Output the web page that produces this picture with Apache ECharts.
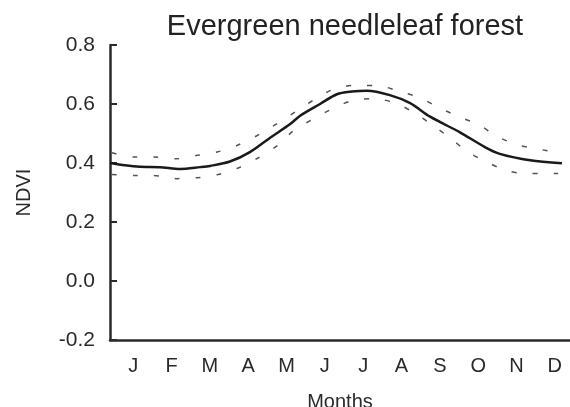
<!DOCTYPE html>
<html>
<head>
<meta charset="utf-8">
<script src="https://cdn.jsdelivr.net/npm/echarts@6/dist/echarts.min.js"></script>
<style>
  html, body { margin: 0; padding: 0; background: #fff; }
  #chart { width: 570px; height: 407px; }
</style>
</head>
<body>
<div id="chart"></div>
<script>
var months = ['J', 'F', 'M', 'A', 'M', 'J', 'J', 'A', 'S', 'O', 'N', 'D'];

// position along the year in months (0 = start of Jan), NDVI value
var meanX = [0.00, 0.39, 0.78, 1.30, 1.83, 2.35, 2.61, 3.13, 3.65, 4.17, 4.70, 4.96, 5.48, 5.92, 6.31, 6.70, 7.30, 7.83, 8.35, 9.13, 9.78, 10.17, 10.96, 11.79];
var meanY = [0.400, 0.392, 0.387, 0.386, 0.380, 0.386, 0.390, 0.405, 0.437, 0.485, 0.532, 0.560, 0.600, 0.633, 0.642, 0.645, 0.630, 0.603, 0.557, 0.504, 0.454, 0.431, 0.409, 0.399];

var upperX = [0.05, 0.60, 1.12, 1.70, 2.27, 2.79, 3.34, 3.91, 4.36, 4.88, 5.32, 5.87, 6.42, 6.97, 7.51, 8.06, 8.58, 9.08, 9.63, 10.10, 10.62, 11.14, 11.69];
var upperY = [0.435, 0.420, 0.420, 0.414, 0.426, 0.437, 0.461, 0.498, 0.534, 0.577, 0.614, 0.652, 0.663, 0.663, 0.644, 0.622, 0.588, 0.558, 0.529, 0.490, 0.462, 0.448, 0.435];

var lowerX = [0.05, 0.60, 1.12, 1.75, 2.27, 2.82, 3.34, 3.86, 4.38, 4.77, 5.27, 5.79, 6.31, 6.89, 7.44, 7.93, 8.43, 8.90, 9.34, 9.84, 10.33, 10.91, 11.43, 11.69];
var lowerY = [0.361, 0.358, 0.358, 0.347, 0.350, 0.361, 0.383, 0.417, 0.460, 0.508, 0.547, 0.583, 0.611, 0.618, 0.603, 0.571, 0.527, 0.482, 0.437, 0.403, 0.375, 0.364, 0.364, 0.364];

function pairs(xs, ys) {
    var out = [];
    for (var i = 0; i < xs.length; i++) out.push([xs[i], ys[i]]);
    return out;
}

var myChart = echarts.init(document.getElementById('chart'));
var axisColor = '#2a2a2a';
var font = 'Liberation Sans, Arial, sans-serif';

var option = {
    animation: false,
    title: {
        text: 'Evergreen needleleaf forest',
        left: 340,
        top: 7,
        textAlign: 'center',
        textStyle: { fontFamily: font, fontSize: 29, fontWeight: 'normal', color: '#222' }
    },
    grid: { left: 110, right: 0, top: 45, bottom: 67, containLabel: false, outerBoundsMode: 'none' },
    xAxis: [{
        type: 'category',
        data: months,
        boundaryGap: true,
        name: 'Months',
        nameLocation: 'middle',
        nameGap: 52,
        nameTextStyle: { fontFamily: font, fontSize: 20, color: axisColor },
        axisLine: { onZero: false, lineStyle: { color: axisColor, width: 2.5 } },
        axisTick: { inside: true, length: 5, lineStyle: { color: axisColor, width: 1.5 } },
        axisLabel: { fontFamily: font, fontSize: 20, color: axisColor, margin: 16, padding: [0, 0, 0, 8] },
        splitLine: { show: false }
    }, {
        type: 'value',
        min: 0,
        max: 12,
        show: false
    }],
    yAxis: {
        type: 'value',
        min: -0.2,
        max: 0.8,
        interval: 0.2,
        name: 'NDVI',
        nameLocation: 'middle',
        nameGap: 76,
        nameTextStyle: { fontFamily: font, fontSize: 20, color: axisColor },
        axisLine: { show: true, onZero: false, lineStyle: { color: axisColor, width: 2.5 } },
        axisTick: { show: true, inside: true, length: 7, lineStyle: { color: axisColor, width: 2 } },
        axisLabel: {
            fontFamily: font, fontSize: 21, color: axisColor, margin: 15,
            formatter: function (v) { return v.toFixed(1); }
        },
        splitLine: { show: false }
    },
    series: [{
        type: 'line',
        xAxisIndex: 1,
        data: pairs(meanX, meanY),
        smooth: 0.3,
        symbol: 'none',
        lineStyle: { color: '#1a1a1a', width: 2.5 }
    }, {
        type: 'line',
        xAxisIndex: 1,
        data: pairs(upperX, upperY),
        smooth: 0.3,
        symbol: 'none',
        lineStyle: { color: '#555', width: 1.5, type: [5, 16] }
    }, {
        type: 'line',
        xAxisIndex: 1,
        data: pairs(lowerX, lowerY),
        smooth: 0.3,
        symbol: 'none',
        lineStyle: { color: '#555', width: 1.5, type: [5, 16] }
    }]
};

if (option && typeof option === 'object') {
    myChart.setOption(option, true);
}
</script>
</body>
</html>
